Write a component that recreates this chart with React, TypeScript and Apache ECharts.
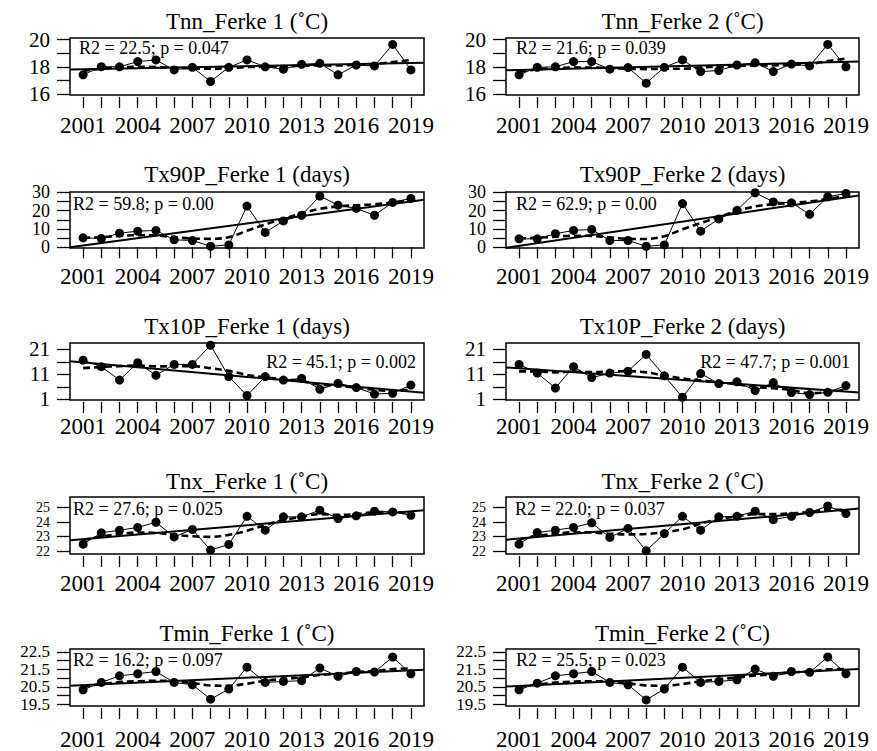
import React, { useEffect, useRef } from "react";
import * as echarts from "echarts";

const YEARS = [2001, 2002, 2003, 2004, 2005, 2006, 2007, 2008, 2009, 2010, 2011, 2012, 2013, 2014, 2015, 2016, 2017, 2018, 2019];
const YEAR_LABELS = [2001, 2004, 2007, 2010, 2013, 2016, 2019];
const X_MIN = 2000.28;
const X_MAX = 2019.72;

// Tnn
const tnnF1 = [17.41, 18.01, 18.0, 18.38, 18.5, 17.77, 17.96, 16.92, 17.96, 18.5, 18.0, 17.82, 18.18, 18.25, 17.41, 18.13, 18.06, 19.64, 17.77];
const tnnF1Smooth = [17.7, 17.85, 17.95, 18.0, 17.98, 17.92, 17.88, 17.85, 17.9, 17.98, 18.0, 18.02, 18.08, 18.1, 18.1, 18.15, 18.2, 18.35, 18.5];
const tnnF1Trend = [17.8, 18.3];
const tnnF2 = [17.41, 17.96, 18.0, 18.38, 18.38, 17.82, 17.94, 16.8, 17.96, 18.5, 17.65, 17.72, 18.13, 18.3, 17.65, 18.2, 18.06, 19.64, 18.0];
const tnnF2Smooth = [17.65, 17.8, 17.9, 17.95, 17.95, 17.9, 17.85, 17.83, 17.85, 17.85, 17.95, 18.0, 18.05, 18.1, 18.1, 18.15, 18.2, 18.42, 18.6];
const tnnF2Trend = [17.75, 18.38];

// Tx90P
const tx90F1 = [5.15, 4.8, 7.7, 8.8, 9.2, 4.05, 3.7, 0.55, 1.3, 22.5, 8.1, 14.4, 17.5, 28.0, 23.0, 21.2, 17.5, 24.5, 26.7];
const tx90F1Smooth = [5.2, 5.5, 6.2, 6.6, 6.5, 5.5, 4.8, 4.6, 5.5, 9.0, 12.5, 15.5, 18.5, 21.0, 22.3, 23.0, 23.5, 24.5, 25.8];
const tx90F1Trend = [0, 26.0];
const tx90F2 = [4.6, 4.6, 7.4, 9.2, 9.75, 3.7, 3.7, 0.55, 1.3, 23.9, 8.8, 15.5, 20.2, 29.8, 24.8, 24.3, 18.0, 27.6, 29.4];
const tx90F2Smooth = [4.8, 5.2, 5.8, 6.3, 6.2, 5.3, 4.6, 4.5, 6.0, 9.8, 13.2, 16.5, 19.8, 22.3, 23.5, 24.2, 25.0, 26.5, 28.0];
const tx90F2Trend = [-0.3, 28.3];

// Tx10P
const tx10F1 = [16.7, 14.1, 8.7, 15.7, 10.6, 15.0, 15.0, 22.7, 10.1, 2.5, 10.1, 8.7, 9.4, 5.0, 7.4, 5.7, 3.1, 3.4, 6.7];
const tx10F1Smooth = [13.5, 14.0, 14.3, 14.6, 14.2, 14.2, 14.3, 13.5, 12.4, 10.8, 9.8, 9.0, 8.2, 6.9, 6.3, 5.7, 4.8, 4.4, 5.0];
const tx10F1Trend = [16.3, 3.6];
const tx10F2 = [15.0, 11.5, 5.5, 14.1, 9.7, 11.5, 12.3, 19.0, 10.4, 1.8, 11.3, 7.3, 8.0, 4.5, 7.7, 3.7, 2.9, 3.8, 6.5];
const tx10F2Smooth = [12.2, 12.2, 11.8, 12.1, 11.9, 12.2, 12.3, 11.8, 10.5, 9.4, 8.6, 7.8, 7.0, 6.0, 5.4, 4.7, 3.5, 3.8, 5.0];
const tx10F2Trend = [13.8, 3.7];

// Tnx
const tnxF1 = [22.48, 23.26, 23.44, 23.63, 23.99, 22.98, 23.49, 22.07, 22.46, 24.4, 23.44, 24.36, 24.36, 24.82, 24.24, 24.43, 24.75, 24.7, 24.47];
const tnxF1Smooth = [22.76, 23.0, 23.17, 23.28, 23.25, 23.12, 23.02, 22.98, 23.12, 23.4, 23.8, 24.13, 24.36, 24.55, 24.5, 24.55, 24.68, 24.7, 24.6];
const tnxF1Trend = [22.75, 24.82];
const tnxF2 = [22.48, 23.28, 23.44, 23.63, 23.95, 22.94, 23.56, 22.02, 23.21, 24.4, 23.44, 24.36, 24.4, 24.75, 24.17, 24.4, 24.66, 25.11, 24.59];
const tnxF2Smooth = [22.8, 23.05, 23.2, 23.3, 23.28, 23.2, 23.15, 23.18, 23.3, 23.5, 23.9, 24.2, 24.4, 24.55, 24.55, 24.6, 24.7, 24.85, 24.85];
const tnxF2Trend = [22.78, 24.93];

// Tmin
const tminF1 = [20.33, 20.75, 21.13, 21.25, 21.38, 20.75, 20.62, 19.79, 20.37, 21.63, 20.75, 20.81, 20.85, 21.58, 21.1, 21.38, 21.35, 22.21, 21.25];
const tminF1Smooth = [20.52, 20.65, 20.77, 20.82, 20.85, 20.82, 20.72, 20.58, 20.56, 20.68, 20.85, 20.95, 21.04, 21.18, 21.25, 21.35, 21.4, 21.52, 21.55];
const tminF1Trend = [20.56, 21.48];
const tminF2 = [20.33, 20.71, 21.13, 21.25, 21.38, 20.75, 20.62, 19.75, 20.37, 21.63, 20.75, 20.81, 20.9, 21.52, 21.1, 21.38, 21.33, 22.21, 21.25];
const tminF2Smooth = [20.5, 20.62, 20.75, 20.8, 20.82, 20.8, 20.7, 20.58, 20.56, 20.66, 20.82, 20.93, 21.03, 21.15, 21.22, 21.33, 21.38, 21.5, 21.52];
const tminF2Trend = [20.52, 21.52];

// y-axis scales per row
const rowYMin = [15.93, -0.4, 0.7, 21.8, 19.4];
const rowYMax = [20.11, 30.2, 23.6, 25.73, 22.67];
const rowYTicks = [
  [16, 17, 18, 19, 20],
  [0, 5, 10, 15, 20, 25, 30],
  [1, 6, 11, 16, 21],
  [22, 23, 24, 25],
  [19.5, 20, 20.5, 21, 21.5, 22, 22.5],
];
const rowYLabels = [
  [16, 18, 20],
  [0, 10, 20, 30],
  [1, 11, 21],
  [22, 23, 24, 25],
  [19.5, 20.5, 21.5, 22.5],
];

const titles = [
  "Tnn_Ferke 1 (˚C)", "Tnn_Ferke 2 (˚C)",
  "Tx90P_Ferke 1 (days)", "Tx90P_Ferke 2 (days)",
  "Tx10P_Ferke 1 (days)", "Tx10P_Ferke 2 (days)",
  "Tnx_Ferke 1 (˚C)", "Tnx_Ferke 2 (˚C)",
  "Tmin_Ferke 1 (˚C)", "Tmin_Ferke 2 (˚C)",
];
const stats = [
  "R2 = 22.5; p = 0.047", "R2 = 21.6; p = 0.039",
  "R2 = 59.8; p = 0.00", "R2 = 62.9; p = 0.00",
  "R2 = 45.1; p = 0.002", "R2 = 47.7; p = 0.001",
  "R2 = 27.6; p = 0.025", "R2 = 22.0; p = 0.037",
  "R2 = 16.2; p = 0.097", "R2 = 25.5; p = 0.023",
];
const valueSets = [tnnF1, tnnF2, tx90F1, tx90F2, tx10F1, tx10F2, tnxF1, tnxF2, tminF1, tminF2];
const smoothSets = [tnnF1Smooth, tnnF2Smooth, tx90F1Smooth, tx90F2Smooth, tx10F1Smooth, tx10F2Smooth, tnxF1Smooth, tnxF2Smooth, tminF1Smooth, tminF2Smooth];
const trendSets = [tnnF1Trend, tnnF2Trend, tx90F1Trend, tx90F2Trend, tx10F1Trend, tx10F2Trend, tnxF1Trend, tnxF2Trend, tminF1Trend, tminF2Trend];

// layout
const colLeft = [70, 506];
const colWidth = [354, 353];
const rowTop = [38, 192, 343, 497, 649];
const rowHeight = [57, 56, 57, 57, 57];
const titleY = [21.5, 174.5, 326, 481.5, 633];
const xLabelMargin = [17, 15, 13, 16, 20];
const yLabelSize = [21, 18, 21, 14, 17];
const yLabelLineHeight = [21, 17, 21, 13, 17];
const statOffsetLeft = [[9, 10], [3, 10], [0, 0], [3, 9], [3, 10]];
const statOffsetTop = [9.5, 12, 18.5, 12, 11];
const statRight = [false, false, true, false, false];

const FONT = '"Liberation Serif", "Times New Roman", serif';

export default function App() {
  const ref = useRef<HTMLDivElement>(null);
  useEffect(() => {
    const chart = echarts.init(ref.current!, null, { renderer: "svg" });
    const grids: any[] = [];
    const xAxes: any[] = [];
    const yAxes: any[] = [];
    const series: any[] = [];
    const graphics: any[] = [];
    for (let i = 0; i < 10; i++) {
      const row = Math.floor(i / 2);
      const col = i % 2;
      const left = colLeft[col];
      const width = colWidth[col];
      const top = rowTop[row];
      const height = rowHeight[row];
      grids.push({
        left, top, width, height,
        show: true, borderColor: "#000", borderWidth: 1.5, backgroundColor: "transparent",
      });
      xAxes.push({
        type: "value", gridIndex: i, min: X_MIN, max: X_MAX, offset: 2,
        axisLine: { show: false },
        splitLine: { show: false },
        axisTick: { show: true, length: 11, customValues: YEARS, lineStyle: { color: "#000", width: 1.3 } },
        axisLabel: {
          customValues: YEAR_LABELS, color: "#000", fontSize: 23, fontFamily: FONT,
          margin: xLabelMargin[row], showMinLabel: true, showMaxLabel: true,
          formatter: (v: number) => String(Math.round(v)),
        },
      });
      yAxes.push({
        type: "value", gridIndex: i, min: rowYMin[row], max: rowYMax[row],
        axisLine: { show: false },
        splitLine: { show: false },
        axisTick: { show: true, length: 13, customValues: rowYTicks[row], lineStyle: { color: "#000", width: 1.3 } },
        axisLabel: {
          customValues: rowYLabels[row], color: "#000", fontSize: yLabelSize[row],
          lineHeight: yLabelLineHeight[row], fontFamily: FONT,
          margin: 20, hideOverlap: false, showMinLabel: true, showMaxLabel: true,
        },
      });
      const vals = valueSets[i];
      const sm = smoothSets[i];
      const tr = trendSets[i];
      series.push({
        type: "line", xAxisIndex: i, yAxisIndex: i, silent: true, z: 2,
        data: YEARS.map((y, k) => [y, sm[k]]), smooth: 0.35, symbol: "none",
        lineStyle: { color: "#000", width: 2.6, type: [7, 4] },
      });
      series.push({
        type: "line", xAxisIndex: i, yAxisIndex: i, silent: true, z: 3,
        data: [[X_MIN, tr[0]], [X_MAX, tr[1]]], symbol: "none",
        lineStyle: { color: "#000", width: 2 },
      });
      series.push({
        type: "line", xAxisIndex: i, yAxisIndex: i, silent: true, z: 4,
        data: YEARS.map((y, k) => [y, vals[k]]), symbol: "circle", symbolSize: 9,
        itemStyle: { color: "#000" }, lineStyle: { color: "#000", width: 1 },
      });
      graphics.push({
        type: "text", x: left + width / 2, y: titleY[row],
        style: {
          text: titles[i], fill: "#000", font: `23px ${FONT}`,
          textAlign: "center", textVerticalAlign: "middle", align: "center", verticalAlign: "middle",
        },
      });
      const right = statRight[row];
      graphics.push({
        type: "text",
        x: right ? left + width - 8 - (col === 1 ? 1 : 0) : left + statOffsetLeft[row][col],
        y: top + statOffsetTop[row],
        style: {
          text: stats[i], fill: "#000", font: `18px ${FONT}`,
          textAlign: right ? "right" : "left", align: right ? "right" : "left",
          textVerticalAlign: "middle", verticalAlign: "middle",
        },
      });
    }
    chart.setOption({
      animation: false,
      backgroundColor: "#fff",
      grid: grids,
      xAxis: xAxes,
      yAxis: yAxes,
      series,
      graphic: graphics,
    });
    return () => chart.dispose();
  }, []);
  return (
    <div
      ref={ref}
      style={{ position: "absolute", left: 0, top: 0, width: 877, height: 751, background: "#fff" }}
    />
  );
}
